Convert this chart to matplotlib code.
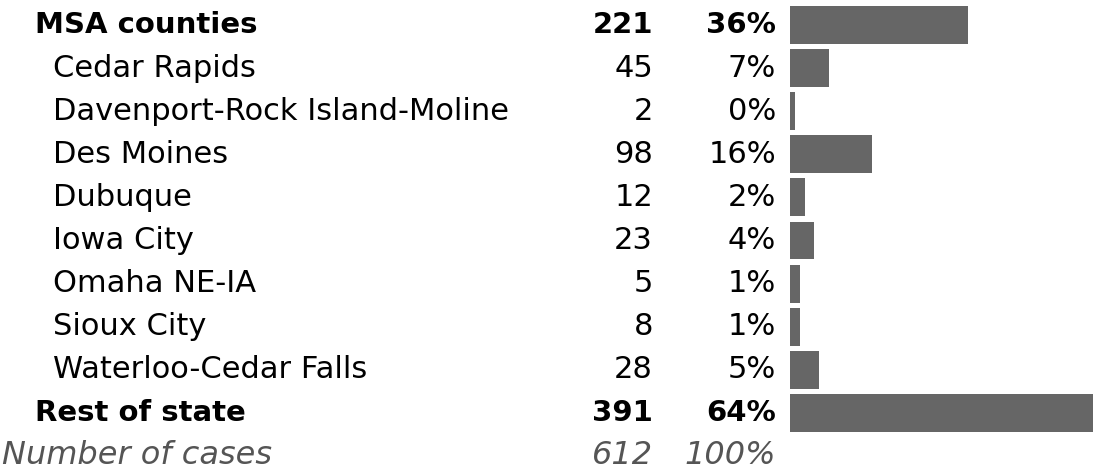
import matplotlib
matplotlib.use("Agg")
import matplotlib.pyplot as plt

# Row labels, counts and shares
labels = ["MSA counties", "Cedar Rapids", "Davenport-Rock Island-Moline",
          "Des Moines", "Dubuque", "Iowa City", "Omaha NE-IA", "Sioux City",
          "Waterloo-Cedar Falls", "Rest of state"]
counts = [221, 45, 2, 98, 12, 23, 5, 8, 28, 391]
shares = [36, 7, 0, 16, 2, 4, 1, 1, 5, 64]
levels = [0, 1, 1, 1, 1, 1, 1, 1, 1, 0]  # 0 = group row, 1 = sub row
total_label = "Number of cases"
total_count = 612
total_share = 100

W, H = 1093, 470
fig = plt.figure(figsize=(W / 100, H / 100), dpi=100)

# text axes spans the whole figure, one unit per row
ax = fig.add_axes([0, 0, 1, 1])
pitch = 43.1
top = 25
ax.set_xlim(0, W)
ax.set_ylim((H - top) / pitch, -top / pitch)
ax.axis("off")

# bar axes: same rows, x in percent; every bar gets a small stub so 0% still shows
px_per_pct = 4.8
stub = 5 / px_per_pct
bx = fig.add_axes([790 / W, 0, (W - 790) / W, 1])
bx.set_xlim(-stub, (W - 790) / px_per_pct - stub)
bx.set_ylim((H - top) / pitch, -top / pitch)
bx.axis("off")

for i, (lab, n, s, lv) in enumerate(zip(labels, counts, shares, levels)):
    if lv == 0:
        kw = dict(fontsize=21, fontweight="bold", va="center")
        x0 = 35
    else:
        kw = dict(fontsize=22, va="center")
        x0 = 53
    ax.text(x0, i, lab, ha="left", **kw)
    ax.text(653, i, str(n), ha="right", **kw)
    ax.text(776, i, f"{s}%", ha="right", **kw)
    bx.barh(i, s + stub, height=0.88, left=-stub, color="#666666")

n = len(labels)
kw = dict(fontsize=23, style="italic", color="#555555", va="center")
ax.text(2, n, total_label, ha="left", **kw)
ax.text(653, n, str(total_count), ha="right", **kw)
ax.text(776, n, f"{total_share}%", ha="right", **kw)

fig.savefig("out.png", dpi=100)
